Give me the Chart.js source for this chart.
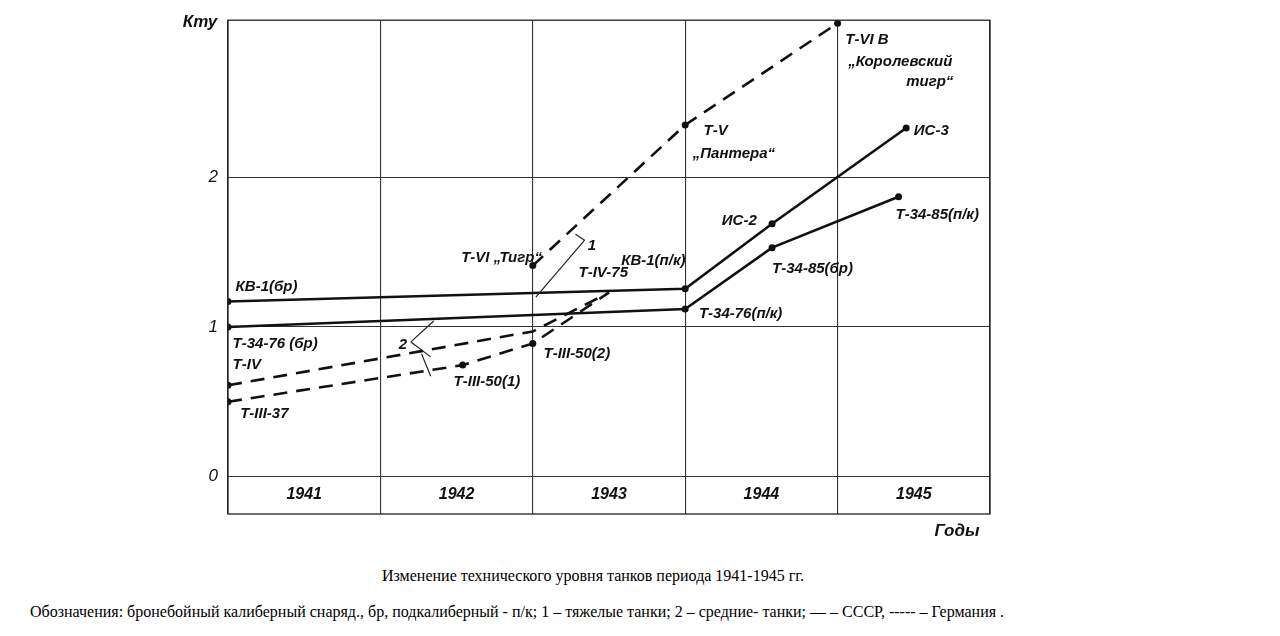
<!DOCTYPE html>
<html><head><meta charset="utf-8">
<script src="https://cdn.jsdelivr.net/npm/chart.js@4/dist/chart.umd.min.js"></script>
<style>
body{margin:0;background:#fff;width:1280px;height:636px;overflow:hidden;font-family:"Liberation Serif",serif;}
#wrap{position:absolute;left:0;top:0;width:1280px;height:548px;}
.cap{position:absolute;font-size:16px;color:#000;}
</style></head><body>
<div id="wrap"><canvas id="c" width="1280" height="548"></canvas></div>
<div class="cap" style="left:0;width:1186px;text-align:center;top:567px">Изменение технического уровня танков периода 1941-1945 гг.</div>
<div class="cap" style="left:30px;top:603px">Обозначения: бронебойный калиберный снаряд., бр, подкалиберный - п/к; 1 – тяжелые танки; 2 – средние- танки; — – СССР, ----- – Германия .</div>
<script>
const yearLabels=["1941","1942","1943","1944","1945"];
const yTicks=[0,1,2];
// series: x = year position, y = Kту
const kv1X=[1941.0,1944.0,1944.57,1945.45];
const kv1Y=[1.17,1.255,1.69,2.33];
const t34X=[1941.0,1944.0,1944.57,1945.4];
const t34Y=[1.0,1.12,1.53,1.87];
const gerHeavyX=[1943.0,1944.0,1945.0];
const gerHeavyY=[1.41,2.35,3.03];
const t4X=[1941.0,1943.0,1943.5];
const t4Y=[0.61,0.97,1.23];
const t3X=[1941.0,1942.54,1943.0,1943.5];
const t3Y=[0.50,0.745,0.89,1.23];
const pointLabels=[
 ["КВ-1(бр)",1941.05,1.27],["Т-34-76 (бр)",1941.03,0.89],["Т-IV",1941.03,0.75],["Т-III-37",1941.08,0.42],
 ["Т-III-50(1)",1942.48,0.63],["Т-III-50(2)",1943.07,0.82],["Т-IV-75",1943.3,1.36],["Т-VI „Тигр“",1942.53,1.46],
 ["КВ-1(п/к)",1943.58,1.44],["Т-34-76(п/к)",1944.09,1.09],["ИС-2",1944.24,1.71],["Т-34-85(бр)",1944.57,1.39],
 ["Т-34-85(п/к)",1945.38,1.75],["ИС-3",1945.5,2.31],["Т-V",1944.12,2.31],["„Пантера“",1944.05,2.16],
 ["Т-VI В",1945.05,2.92],["„Королевский",1945.07,2.77],["тигр“",1945.45,2.64],["1",1943.36,1.54],["2",1942.12,0.88]
];
const leaders=[[[1943.34,1.58],[1943.02,1.2]],[[1943.34,1.58],[1943.28,1.62]],
 [[1942.2,0.9],[1942.35,1.04]],[[1942.2,0.9],[1942.33,0.8]],[[1942.27,0.82],[1942.33,0.67]]];
function pts(xs,ys){return xs.map((x,i)=>({x,y:ys[i]}));}
function ds(xs,ys,dash,noPt){return {data:pts(xs,ys),borderColor:'#111',borderWidth:2.6,borderDash:dash,
 pointRadius:noPt?xs.map((_,i)=>noPt.includes(i)?0:3.5):3.5,pointBackgroundColor:'#111',pointBorderWidth:0,tension:0};}
const deco={id:'deco',afterDraw(ch){
 const c=ch.ctx,x=ch.scales.x,y=ch.scales.y,a=ch.chartArea;
 c.save();c.strokeStyle='#222';c.lineWidth=1.3;c.strokeRect(a.left,a.top,a.right-a.left,a.bottom-a.top);
 c.fillStyle='#111';c.font='italic 600 15px "Liberation Sans"';c.textBaseline='middle';
 pointLabels.forEach(([t,px,py])=>c.fillText(t,x.getPixelForValue(px),y.getPixelForValue(py)));
 c.lineWidth=1.2;leaders.forEach(([p,q])=>{c.beginPath();c.moveTo(x.getPixelForValue(p[0]),y.getPixelForValue(p[1]));c.lineTo(x.getPixelForValue(q[0]),y.getPixelForValue(q[1]));c.stroke();});
 c.textAlign='center';c.font='italic 600 16px "Liberation Sans"';
 yearLabels.forEach((t,i)=>c.fillText(t,x.getPixelForValue(1941.5+i),y.getPixelForValue(-0.12)));
 c.font='italic 600 17px "Liberation Sans"';c.fillText('Кту',200,22);c.fillText('Годы',957,531);
 c.restore();}};
new Chart(document.getElementById('c'),{type:'line',
 data:{datasets:[ds(kv1X,kv1Y,[]),ds(t34X,t34Y,[]),ds(gerHeavyX,gerHeavyY,[14,9]),ds(t4X,t4Y,[14,9],[1,2]),ds(t3X,t3Y,[14,9],[3])]},
 options:{responsive:false,animation:false,layout:{padding:{left:188,right:290,top:9,bottom:34}},
 plugins:{legend:{display:false},tooltip:{enabled:false}},
 scales:{x:{type:'linear',min:1941,max:1946,afterBuildTicks:s=>{s.ticks=[1941,1942,1943,1944,1945,1946].map(v=>({value:v}));},
   ticks:{display:false},grid:{color:'#333',lineWidth:1.1,drawTicks:false},border:{display:false},afterFit:s=>{s.height=0;}},
  y:{min:-0.25,max:3.05,afterBuildTicks:s=>{s.ticks=yTicks.map(v=>({value:v}));},
   ticks:{color:'#111',font:{family:'Liberation Sans',size:17,style:'italic'},padding:10},
   grid:{color:'#333',lineWidth:1.1,drawTicks:false},border:{display:false},afterFit:s=>{s.width=40;}}}},
 plugins:[deco]});
</script></body></html>
